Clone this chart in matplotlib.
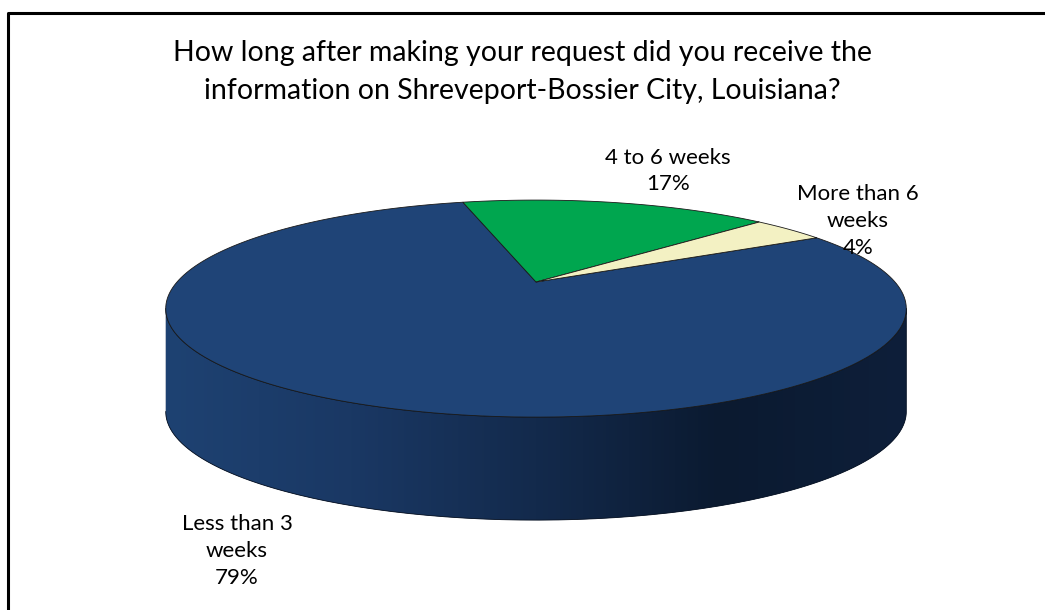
import numpy as np
import matplotlib.pyplot as plt
from matplotlib.colors import LinearSegmentedColormap
from matplotlib.lines import Line2D

# survey answers, in the order the slices are drawn (clockwise)
categories = ["Less than 3\nweeks", "4 to 6 weeks", "More than 6\nweeks"]
percents = [79, 17, 4]
colors = ["#1f4477", "#00a64f", "#f3f1c3"]

title = ("How long after making your request did you receive the\n"
         "information on Shreveport-Bossier City, Louisiana?")

# layout (pixels of the 1045x610 canvas)
W, H = 1045, 610
cx, cy = 536, 282          # apex of the pie on screen
rx, ry = 359, 102          # horizontal / vertical scale of the disk
persp = 0.245              # perspective strength
depth = 1.01               # thickness of the pie, in ry units
first_angle = 29.0         # where the first slice starts (deg, ccw from 3 o'clock)
label_pos = [(237, 551), (668, 171), (858, 221)]

fig = plt.figure(figsize=(W / 100, H / 100), dpi=100)
ax = fig.add_axes([0, 0, 1, 1])
ax.set_xlim(-cx / rx, (W - cx) / rx)
ax.set_ylim(-(H - cy) / ry, cy / ry)
ax.axis("off")


# point on the rim of the disk; x is in rx units, y in ry units
def rim_xy(theta_deg, drop=0.0):
    t = np.radians(theta_deg)
    w = 1 + persp * np.sin(t)
    return np.cos(t) / w, np.sin(t) / w - drop


# side wall (front half, visible between the two silhouette tangents)
t_left = 180 + np.degrees(np.arcsin(persp))
t_right = 360 - np.degrees(np.arcsin(persp))
ts = np.linspace(t_left, t_right, 200)
xt, yt = rim_xy(ts)
xb, yb = rim_xy(ts, depth)
side_x = np.concatenate([xt, xb[::-1]])
side_y = np.concatenate([yt, yb[::-1]])
side = ax.fill(side_x, side_y, color="#16305a", lw=0, zorder=1)[0]

side_cmap = LinearSegmentedColormap.from_list(
    "side", ["#1e4272", "#1a3864", "#132a4c", "#0b1a30", "#0e1f3a"])
grad = np.linspace(0, 1, 256).reshape(1, -1)
img = ax.imshow(grad, cmap=side_cmap, aspect="auto", zorder=2,
                extent=[side_x.min(), side_x.max(), side_y.min(), side_y.max()])
img.set_clip_path(side)
ax.plot(side_x, side_y, color="#0a1424", lw=0.6, zorder=3)

# top face, slices clockwise from first_angle
start = first_angle
for pct, col in zip(percents, colors):
    sweep = pct / sum(percents) * 360
    ang = np.linspace(start, start - sweep, 200)
    x, y = rim_xy(ang)
    px = np.concatenate([[0], x, [0]])
    py = np.concatenate([[0], y, [0]])
    ax.fill(px, py, color=col, ec="#1a1a1a", lw=0.6, zorder=4)
    start -= sweep

# labels
for (lx, ly), cat, pct in zip(label_pos, categories, percents):
    fig.text(lx / W, 1 - ly / H, f"{cat}\n{pct}%", ha="center", va="center",
             fontsize=16, family="Lato", linespacing=1.42)

fig.text(0.5, 1 - 72 / H, title, ha="center", va="center", fontsize=20.5,
         family="Lato", linespacing=1.55)

# chart frame (top and left edges visible)
fig.add_artist(Line2D([8 / W, 8 / W, 1], [0, 1 - 13 / H, 1 - 13 / H],
                      transform=fig.transFigure, color="black", lw=2.2))

fig.savefig("out.png", dpi=100)
